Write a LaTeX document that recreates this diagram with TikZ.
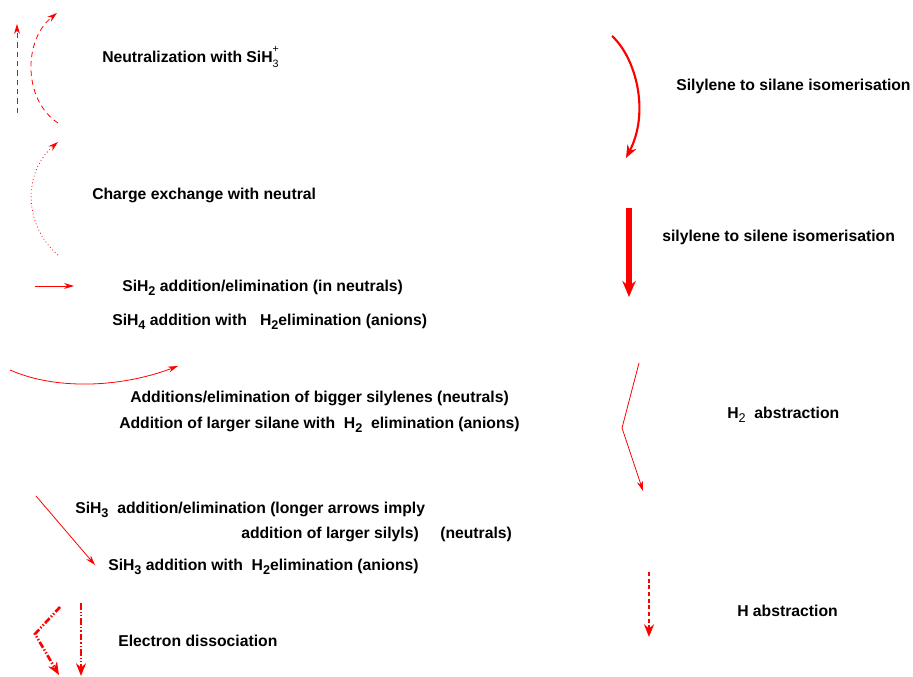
\documentclass[tikz,border=0pt]{standalone}
\usepackage{fontspec}
\setmainfont{Liberation Sans}
\usetikzlibrary{arrows.meta}

\newcommand{\sbs}[1]{\raisebox{-0.45ex}{\fontsize{9.5}{9.5}\selectfont#1}}
\newcommand{\sitr}{SiH\makebox[0pt][l]{\raisebox{1.1ex}{\fontsize{8}{8}\selectfont\mdseries+}}\raisebox{-0.6ex}{\fontsize{8}{8}\selectfont\mdseries 3}}

\begin{document}
\begin{tikzpicture}[x=0.75pt,y=-0.75pt,
                    label node/.style={anchor=west,inner sep=0pt,font=\fontsize{11.8}{13}\selectfont\bfseries},
                    thin arrow/.style={red,line width=0.6pt,-{Stealth[length=7.5pt,width=4.5pt]}},
                    mid arrow/.style={red,line width=1.6pt,-{Stealth[length=9.5pt,width=7.5pt]}},
                    fat arrow/.style={red,line width=4pt,-{Stealth[length=12pt,width=10pt]}}]
  \useasboundingbox (0,0) rectangle (913,677);

  % left column
  \coordinate (1a) at (17,113);
  \coordinate (1b) at (17,24);
  \coordinate (2a) at (58,123);
  \coordinate (2b) at (57,13);
  \coordinate (3a) at (58,255);
  \coordinate (3b) at (58,142);
  \coordinate (4a) at (35,286);
  \coordinate (4b) at (74,286);
  \coordinate (5a) at (10,370);
  \coordinate (5b) at (178,366);
  \coordinate (6a) at (36,496);
  \coordinate (6b) at (95,565);
  \coordinate (7a) at (60,607);
  \coordinate (7c) at (35,634);
  \coordinate (7b) at (59,675);
  \coordinate (8a) at (81,603);
  \coordinate (8b) at (81,676);

  % right column
  \coordinate (9a) at (612,36);
  \coordinate (9b) at (626,158);
  \coordinate (10a) at (629,208);
  \coordinate (10b) at (629,297);
  \coordinate (11a) at (639,363);
  \coordinate (11c) at (622,428);
  \coordinate (11b) at (643,491);
  \coordinate (12a) at (649,572);
  \coordinate (12b) at (649,637);

  \draw[thin arrow,dash pattern=on 4pt off 3pt] (1a) -- (1b);
  \draw[thin arrow,dash pattern=on 4pt off 3pt] (2a) .. controls (23,100) and (23,40) .. (2b);
  \draw[thin arrow,dotted] (3a) .. controls (23,225) and (23,172) .. (3b);
  \draw[thin arrow] (4a) -- (4b);
  \draw[thin arrow] (5a) .. controls (55,390) and (120,388) .. (5b);
  \draw[thin arrow] (6a) -- (6b);
  \draw[mid arrow,line width=2pt,dash pattern=on 5pt off 1.5pt on 1pt off 1.5pt on 1pt off 1.5pt] (7a) -- (7c) -- (7b);
  \draw[mid arrow,line width=2pt,dash pattern=on 5pt off 1.5pt on 1pt off 1.5pt on 1pt off 1.5pt] (8a) -- (8b);

  \draw[mid arrow] (9a) .. controls (636,58) and (650,112) .. (9b);
  \draw[fat arrow] (10a) -- (10b);
  \draw[thin arrow] (11a) -- (11c) -- (11b);
  \draw[mid arrow,line width=2pt,dash pattern=on 3pt off 2pt] (12a) -- (12b);

  % labels
  \node[label node] (l1) at (102,57) {Neutralization with \sitr};
  \node[label node] (l2) at (92,195) {Charge exchange with neutral};
  \node[label node] (l3) at (122,288) {SiH\sbs{2} addition/elimination (in neutrals)};
  \node[label node] (l4) at (112,322) {SiH\sbs{4} addition with \ \ H\sbs{2}elimination (anions)};
  \node[label node] (l5) at (130,398) {Additions/elimination of bigger silylenes (neutrals)};
  \node[label node] (l6) at (119,425) {Addition of larger silane with \ H\sbs{2}\ \ elimination (anions)};
  \node[label node] (l7) at (75,510) {SiH\sbs{3}\ \ addition/elimination (longer arrows imply};
  \node[label node] (l8) at (241,534) {addition of larger silyls)};
  \node[label node] (l9) at (440,534) {(neutrals)};
  \node[label node] (l10) at (108,567) {SiH\sbs{3} addition with \ H\sbs{2}elimination (anions)};
  \node[label node] (l11) at (118,641) {Electron dissociation};
  \node[label node] (l12) at (676,86) {Silylene to silane isomerisation};
  \node[label node] (l13) at (662,237) {silylene to silene isomerisation};
  \node[label node] (l14) at (727,415) {H\sbs{\mdseries 2}\ \ abstraction};
  \node[label node] (l15) at (737,611) {H abstraction};

\end{tikzpicture}
\end{document}
